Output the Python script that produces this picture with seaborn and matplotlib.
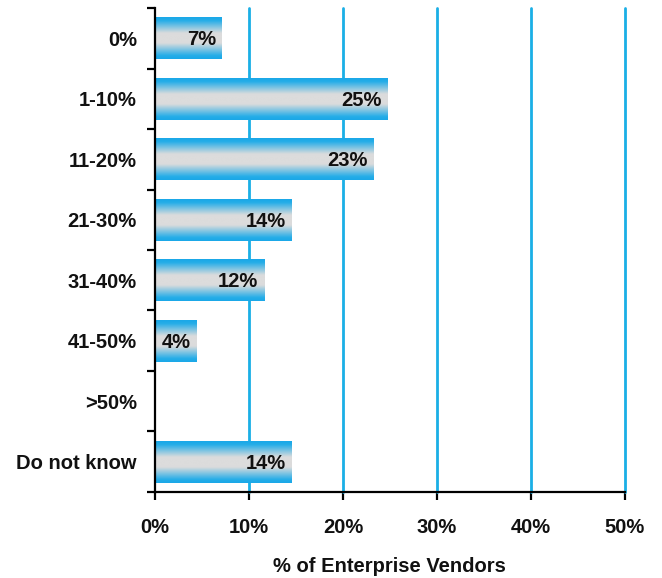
import numpy as np
import pandas as pd
import matplotlib
matplotlib.use("Agg")
import matplotlib.pyplot as plt
from matplotlib.colors import LinearSegmentedColormap
from matplotlib.ticker import FixedLocator, PercentFormatter
import seaborn as sns

# Data
categories = ['0%', '1-10%', '11-20%', '21-30%', '31-40%', '41-50%', '>50%', 'Do not know']
values = [7.1, 24.7, 23.2, 14.5, 11.6, 4.4, 0.0, 14.5]
value_labels = ['7%', '25%', '23%', '14%', '12%', '4%', '', '14%']
x_ticks = [0, 10, 20, 30, 40, 50]

sns.set_theme(style="white")
plt.rcParams['font.family'] = ['Liberation Sans', 'DejaVu Sans']
plt.rcParams['font.weight'] = 'bold'

df = pd.DataFrame({'category': categories, 'value': values})

fig = plt.figure(figsize=(6.62, 5.78), dpi=100)
ax = fig.add_axes([0.234, 0.149, 0.710, 0.837])

grid_blue = '#1AAFE6'
fs = 14.5
sns.barplot(data=df, x='value', y='category', order=categories, orient='h',
            color='#D9D9D9', width=0.69, ax=ax, zorder=2, linewidth=0)

# gradient fill: blue at top/bottom edges, light grey in the middle
cmap = LinearSegmentedColormap.from_list(
    'bar_grad', [(0.0, '#1AA8E8'), (0.08, '#25ADE8'), (0.38, '#DCDCDC'),
                 (0.62, '#DCDCDC'), (0.92, '#25ADE8'), (1.0, '#1AA8E8')])
grad = np.linspace(0, 1, 100).reshape(-1, 1)
for patch in ax.patches:
    x0, y0 = patch.get_x(), patch.get_y()
    w, h = patch.get_width(), patch.get_height()
    if w <= 0:
        continue
    im = ax.imshow(grad, cmap=cmap, aspect='auto', zorder=3,
                   extent=[x0, x0 + w, y0 + h, y0], interpolation='bicubic')
    im.set_clip_path(patch)

ax.set_xlim(0, 50)
ax.set_ylim(len(categories) - 0.5, -0.5)

for i, (v, lab) in enumerate(zip(values, value_labels)):
    if lab:
        ax.annotate(lab, xy=(v, i), xytext=(-4, -1), textcoords='offset points',
                    ha='right', va='center', fontsize=fs, fontweight='bold',
                    color='#111111', zorder=4)

# grid lines
for xt in x_ticks[1:]:
    ax.axvline(xt, color=grid_blue, linewidth=2, zorder=1, clip_on=False)

for side in ['top', 'right']:
    ax.spines[side].set_visible(False)
for side in ['left', 'bottom']:
    ax.spines[side].set_color('black')
    ax.spines[side].set_linewidth(1.6)
    ax.spines[side].set_zorder(5)

ax.set_xticks(x_ticks)
ax.xaxis.set_major_formatter(PercentFormatter(decimals=0))
ax.tick_params(axis='x', which='major', bottom=True, direction='out', length=6,
               width=1.6, color='black', labelsize=fs, pad=13)
ax.tick_params(axis='y', which='major', left=False, labelsize=fs, pad=7)
ax.yaxis.set_minor_locator(FixedLocator(np.arange(-0.5, len(categories), 1.0)))
ax.tick_params(axis='y', which='minor', left=True, direction='out', length=6,
               width=1.6, color='black')
for lbl in ax.get_xticklabels() + ax.get_yticklabels():
    lbl.set_fontweight('bold')
    lbl.set_color('#111111')

ax.set_ylabel('')
ax.set_xlabel('% of Enterprise Vendors', fontsize=fs, fontweight='bold',
              color='#111111', labelpad=14)

fig.savefig('out.png', dpi=100)
